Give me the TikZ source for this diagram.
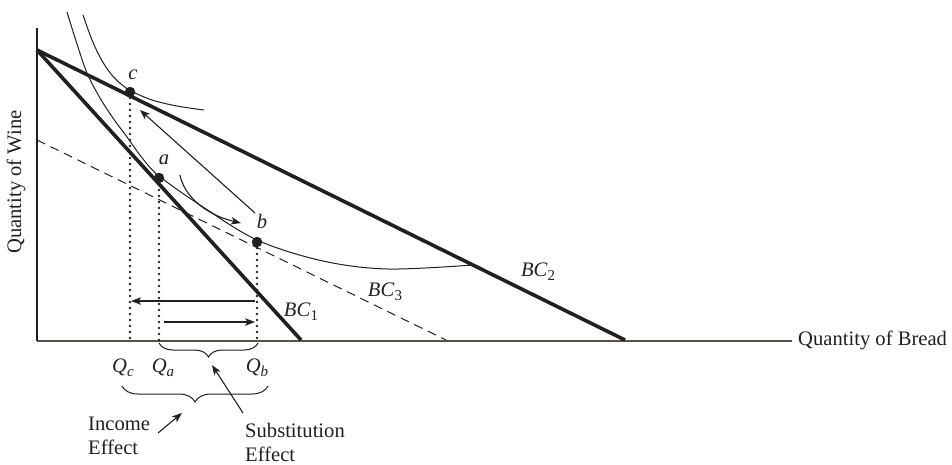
\documentclass[tikz,border=0pt]{standalone}
\usepackage{fontspec}
\setmainfont{Liberation Serif}
\usetikzlibrary{arrows.meta,decorations.pathreplacing}
\definecolor{ink}{RGB}{35,31,28}
\definecolor{axisc}{RGB}{88,82,72}
\newcommand{\sbs}[1]{\raisebox{-0.4ex}{\fontsize{15}{15}\selectfont #1}}
\begin{document}
\begin{tikzpicture}[x=1pt,y=-1pt,
  lbl/.style={font=\fontsize{20.6}{24}\selectfont, text=ink, inner sep=0pt},
  bcline/.style={line width=3.6pt, draw=ink},
  icurve/.style={line width=1pt, draw=ink},
  dotv/.style={draw=ink, line width=2.6pt, dash pattern=on 0pt off 6pt, line cap=round},
  arr/.style={draw=ink, line width=1.1pt, -{Stealth[length=10pt,width=7.5pt,inset=2.5pt]}},
  ptdot/.style={circle, fill=ink, minimum size=10.5pt, inner sep=0pt},
  brc/.style={draw=ink, line width=1pt, decorate, decoration={brace, mirror, amplitude=#1}}
]
\useasboundingbox (0,0) rectangle (952,464);

% axes
\coordinate (Ytop) at (37,28);
\coordinate (O) at (37,341);
\coordinate (Xend) at (792,341);
\draw[axisc, line width=1.3pt] (Xend) -- (O);
\draw[ink, line width=1.2pt] (O) -- (Ytop);

% budget lines
\coordinate (BCtop) at (37,50);
\coordinate (BC1x) at (301,340);
\coordinate (BC2x) at (625,340);
\coordinate (BC3y) at (37,140);
\coordinate (BC3x) at (446,340);
\draw[ink, line width=1pt, dash pattern=on 9pt off 6pt] (BC3y) -- (BC3x);
\draw[bcline] (BCtop) -- (BC1x);
\draw[bcline] (BCtop) -- (BC2x);

% indifference curves
\draw[icurve] plot[smooth, tension=0.55] coordinates {(67,12) (77,44) (87,73) (100,98) (113,118) (127,137) (143,159) (159,176) (200,205) (257,240) (323,261) (388,269) (473,265)};
\draw[icurve] plot[smooth, tension=0.55] coordinates {(83,15) (92,40) (101,59) (111,74) (121,84) (131,91) (152,100) (177,106) (204,110)};

% points
\node[ptdot] (c) at (130,92) {};
\node[ptdot] (a) at (159,178) {};
\node[ptdot] (b) at (257,242) {};

% dotted drop lines
\coordinate (qc) at (130,341);
\coordinate (qa) at (159,341);
\coordinate (qb) at (257,341);
\draw[dotv] (c.center) -- (qc);
\draw[dotv] (a.center) -- (qa);
\draw[dotv] (b.center) -- (qb);

% arrows
\coordinate (L1) at (255,301);
\coordinate (L2) at (131,301);
\coordinate (R1) at (164,322);
\coordinate (R2) at (255,322);
\draw[arr] (L1) -- (L2);
\draw[arr] (R1) -- (R2);
\coordinate (s1) at (180,175);
\coordinate (s2) at (241,223);
\draw[arr] (s1) .. controls (184,196) and (206,215) .. (s2);
\coordinate (t1) at (255,213);
\coordinate (t2) at (140,110);
\draw[arr] (t1) -- (t2);

% braces
\coordinate (sb1) at (159,343);
\coordinate (sb2) at (258,343);
\draw[brc=14pt] (sb1) -- (sb2);
\coordinate (ib1) at (122,386);
\coordinate (ib2) at (268,386);
\draw[brc=16pt] (ib1) -- (ib2);

% labels
\node[lbl] (lc) at (133,75) {\textit{c}};
\node[lbl] (la) at (164,160) {\textit{a}};
\node[lbl] (lb) at (262,221) {\textit{b}};
\node[lbl] (lbc1) at (301,312) {\textit{BC}\sbs{1}};
\node[lbl] (lbc3) at (385,292) {\textit{BC}\sbs{3}};
\node[lbl] (lbc2) at (538,272) {\textit{BC}\sbs{2}};
\node[lbl] (lqc) at (123,368) {\textit{Q}\sbs{\textit{c}}};
\node[lbl] (lqa) at (163,368) {\textit{Q}\sbs{\textit{a}}};
\node[lbl] (lqb) at (257,368) {\textit{Q}\sbs{\textit{b}}};
\node[lbl, align=left, anchor=west] (inc) at (88,436) {Income\\Effect};
\node[lbl, align=left, anchor=west] (sub) at (245,442) {Substitution\\Effect};
\node[lbl, anchor=base west] (xl) at (798,345) {Quantity of Bread};
\node[lbl, rotate=90] (yl) at (16,182) {Quantity of Wine};

% label arrows
\coordinate (ia1) at (158,433);
\coordinate (ia2) at (182,413);
\draw[arr] (ia1) -- (ia2);
\coordinate (sa1) at (243,413);
\coordinate (sa2) at (212,365);
\draw[arr] (sa1) -- (sa2);
\end{tikzpicture}
\end{document}
